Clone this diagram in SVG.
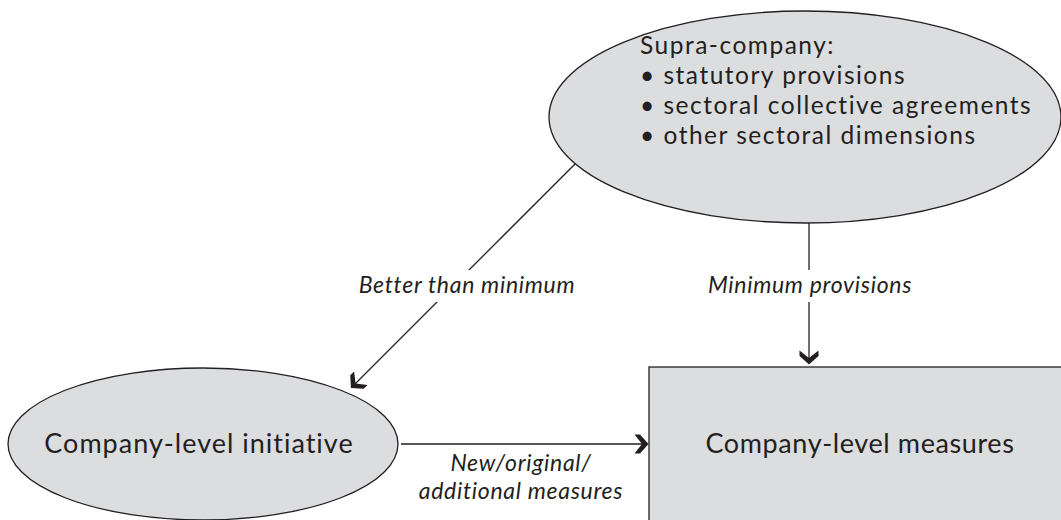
<svg xmlns="http://www.w3.org/2000/svg" width="1061" height="520" viewBox="0 0 1061 520">
<style>
.node{fill:#dcdddf;stroke:#231f20;stroke-width:1.3}
.t{font-family:Lato,"Open Sans","DejaVu Sans",sans-serif;font-size:24.5px;letter-spacing:1.5px;fill:#231f20}
.big{font-family:Lato,"Open Sans","DejaVu Sans",sans-serif;font-size:27px;fill:#231f20}
.lbl{font-family:Lato,"Open Sans","DejaVu Sans",sans-serif;font-size:23px;letter-spacing:0.7px;font-style:italic;fill:#231f20}
.edge{stroke:#231f20;stroke-width:1.3;fill:none}
.bg{fill:#ffffff}
</style>
<defs>
<marker id="chev" markerUnits="userSpaceOnUse" viewBox="-14 -10 16 20" refX="0" refY="0" markerWidth="16" markerHeight="20" orient="auto">
<path d="M1.5,0 L-7,-9.5 L-12.5,-9.5 L-5,0 L-12.5,9.5 L-7,9.5 Z" fill="#231f20"/>
</marker>
</defs>
<rect width="1061" height="520" fill="#ffffff"/>
<g id="supra">
<ellipse class="node" cx="805" cy="117" rx="256" ry="106"/>
<text class="t" x="640" y="54">Supra-company:<tspan x="640" dy="30">• statutory provisions</tspan><tspan x="640" dy="30">• sectoral collective agreements</tspan><tspan x="640" dy="30">• other sectoral dimensions</tspan></text>
</g>
<g id="initiative">
<ellipse class="node" cx="203" cy="444" rx="195" ry="76"/>
<text class="big" x="199" y="453" text-anchor="middle" style="letter-spacing:1px">Company-level initiative</text>
</g>
<g id="measures">
<rect class="node" x="649" y="367" width="420" height="170"/>
<text class="big" x="860" y="453" text-anchor="middle" style="letter-spacing:0.6px">Company-level measures</text>
</g>
<g id="connectors">
<line class="edge" x1="575.3" y1="163.7" x2="352" y2="387" marker-end="url(#chev)"/>
<line class="edge" x1="809" y1="223" x2="809" y2="363" marker-end="url(#chev)"/>
<line class="edge" x1="401" y1="444" x2="647" y2="444" marker-end="url(#chev)"/>
<rect class="bg" x="352" y="270" width="232" height="32"/>
<rect class="bg" x="698" y="270" width="224" height="32"/>
<text class="lbl" x="467" y="293" text-anchor="middle">Better than minimum</text>
<text class="lbl" x="810" y="293" text-anchor="middle">Minimum provisions</text>
<text class="lbl" x="521" y="471" text-anchor="middle">New/original/<tspan x="521" dy="28">additional measures</tspan></text>
</g>
</svg>
